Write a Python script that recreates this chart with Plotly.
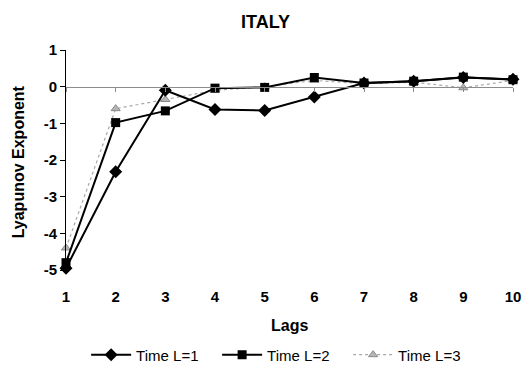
import plotly.graph_objects as go

lags = [1, 2, 3, 4, 5, 6, 7, 8, 9, 10]
time_l1 = [-4.95, -2.32, -0.1, -0.62, -0.65, -0.28, 0.1, 0.15, 0.25, 0.2]
time_l2 = [-4.8, -0.98, -0.66, -0.04, -0.02, 0.25, 0.1, 0.15, 0.26, 0.19]
time_l3 = [-4.4, -0.6, -0.35, -0.1, 0.0, 0.17, 0.08, 0.12, -0.03, 0.17]
y_ticks = [1, 0, -1, -2, -3, -4, -5]

FONT = "Liberation Sans, Arial, sans-serif"

fig = go.Figure()
fig.add_trace(go.Scatter(
    x=lags, y=time_l3, name="Time L=3", mode="lines+markers",
    line=dict(color="#a8a8a8", width=1.2, dash="dot"),
    marker=dict(symbol="triangle-up", size=8, color="#b5b5b5",
                line=dict(color="#8a8a8a", width=1)),
    cliponaxis=False,
))
fig.add_trace(go.Scatter(
    x=lags, y=time_l2, name="Time L=2", mode="lines+markers",
    line=dict(color="black", width=2),
    marker=dict(symbol="square", size=9, color="black"),
    cliponaxis=False,
))
fig.add_trace(go.Scatter(
    x=lags, y=time_l1, name="Time L=1", mode="lines+markers",
    line=dict(color="black", width=2),
    marker=dict(symbol="diamond", size=10, color="black"),
    cliponaxis=False,
))
# helper trace so the crossing axis at y=0 is drawn
fig.add_trace(go.Scatter(x=lags, y=[0] * len(lags), xaxis="x2", mode="none",
                         showlegend=False, hoverinfo="skip"))

fig.update_layout(
    width=531, height=365,
    margin=dict(l=66, r=18, t=50, b=95, autoexpand=False),
    paper_bgcolor="white", plot_bgcolor="white",
    font=dict(family=FONT, color="black", size=15),
    title=dict(text="<b>ITALY</b>", x=0.5, xanchor="center", y=0.94, yanchor="middle",
               font=dict(size=18)),
    showlegend=True,
    legend=dict(orientation="h", traceorder="reversed", x=0.045, xanchor="left",
                y=-0.386, yanchor="middle", font=dict(size=15),
                itemwidth=40, entrywidth=76, entrywidthmode="pixels", tracegroupgap=0),
    xaxis=dict(range=[1, 10], tickvals=lags, showgrid=False, zeroline=False,
               showline=False, ticks="", ticklabelstandoff=16, automargin=False,
               tickfont=dict(size=15, weight="bold")),
    xaxis2=dict(range=[1, 10], overlaying="x", anchor="free", position=5 / 6,
                tickvals=lags, showticklabels=False, showgrid=False, zeroline=False,
                showline=True, linecolor="#8c8c8c", linewidth=1, automargin=False,
                ticks="outside", ticklen=4, tickcolor="#8c8c8c"),
    yaxis=dict(range=[-5, 1], tickvals=y_ticks, ticktext=[str(v) for v in y_ticks],
               showgrid=False, zeroline=False,
               showline=True, linecolor="black", linewidth=1, automargin=False,
               ticks="outside", ticklen=5, tickcolor="black",
               tickfont=dict(size=15, weight="bold")),
    annotations=[
        dict(text="<b>Lags</b>", xref="paper", yref="paper", x=0.5, y=-0.25,
             xanchor="center", yanchor="middle", showarrow=False, font=dict(size=16)),
        dict(text="<b>Lyapunov Exponent</b>", xref="paper", yref="paper",
             x=-0.107, y=0.49, xanchor="center", yanchor="middle", textangle=-90,
             showarrow=False, font=dict(size=16)),
    ],
)

fig.write_html("out.html")
